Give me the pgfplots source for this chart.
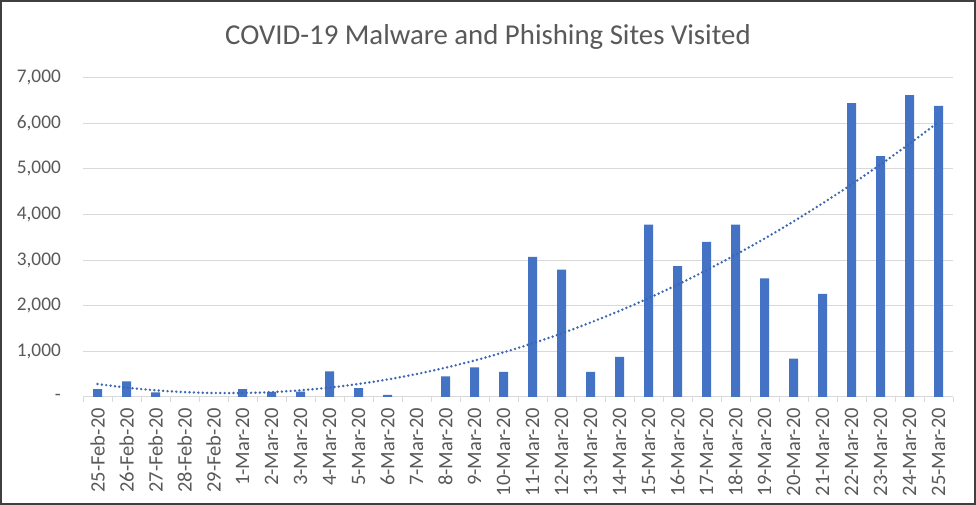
\documentclass[border=0pt]{standalone}
\usepackage{pgfplots}
\pgfplotsset{compat=1.18}
\usepackage{fontspec}
\setmainfont{Carlito}
\definecolor{barblue}{HTML}{4472C4}
\definecolor{txtgray}{HTML}{595959}
\definecolor{gridgray}{HTML}{D9D9D9}
\definecolor{framegray}{HTML}{3F3F3F}
\begin{document}
\begin{tikzpicture}[x=1pt,y=1pt]
\fill[white] (0,0) rectangle (976,505);
\draw[line width=2.4pt, framegray] (1.2,1.2) rectangle (974.8,503.8);
\node[anchor=base, text=txtgray, font=\fontsize{28.8}{32}\selectfont, inner sep=0pt] at (488,460) {COVID-19 Malware and Phishing Sites Visited};
\begin{axis}[
  at={(83pt,108pt)}, anchor=south west,
  scale only axis, width=870pt, height=319.3pt,
  xmin=-0.5, xmax=29.5, ymin=0, ymax=7000,
  axis x line*=bottom, axis y line*=left,
  y axis line style={draw=none},
  x axis line style={draw=gridgray, line width=1pt, -},
  ymajorgrids, grid style={draw=gridgray, line width=1pt},
  ytick={0,1000,2000,3000,4000,5000,6000,7000},
  yticklabels={{-\hspace{9pt}},{1,000},{2,000},{3,000},{4,000},{5,000},{6,000},{7,000}},
  ytick style={draw=none},
  yticklabel style={font=\fontsize{19.3}{22}\selectfont, text=txtgray, inner sep=0pt, xshift=-22pt, anchor=east},
  xtick={0,...,29},
  xticklabels={25-Feb-20,26-Feb-20,27-Feb-20,28-Feb-20,29-Feb-20,1-Mar-20,2-Mar-20,3-Mar-20,4-Mar-20,5-Mar-20,6-Mar-20,7-Mar-20,8-Mar-20,9-Mar-20,10-Mar-20,11-Mar-20,12-Mar-20,13-Mar-20,14-Mar-20,15-Mar-20,16-Mar-20,17-Mar-20,18-Mar-20,19-Mar-20,20-Mar-20,21-Mar-20,22-Mar-20,23-Mar-20,24-Mar-20,25-Mar-20},
  major x tick style={draw=none},
  minor xtick={-0.5,0.5,...,29.5},
  minor x tick style={draw=gridgray, line width=1pt},
  minor tick length=5pt,
  major tick length=0pt,
  tick align=outside,
  xticklabel shift=11pt,
  xticklabel style={font=\fontsize{20.5}{22}\selectfont, text=txtgray, rotate=90, anchor=east, inner sep=0pt},
  clip=false,
]
\addplot[ybar, bar width=9pt, fill=barblue, draw=none] coordinates {
(0,170) (1,340) (2,100) (5,170) (6,110) (7,120) (8,560) (9,195) (10,45)
(12,450) (13,650) (14,550) (15,3070) (16,2790) (17,550) (18,880) (19,3780)
(20,2870) (21,3400) (22,3780) (23,2600) (24,840) (25,2260) (26,6440)
(27,5280) (28,6620) (29,6380)
};
\addplot[smooth, barblue!90!black, line width=2.7pt, line cap=round, dash pattern=on 0pt off 4.4pt] coordinates {
(0,285) (1,206) (2,147) (3,107) (4,88) (5,88) (6,107) (7,147) (8,206) (9,285)
(10,384) (11,503) (12,642) (13,800) (14,978) (15,1176) (16,1394) (17,1632)
(18,1889) (19,2166) (20,2463) (21,2780) (22,3117) (23,3473) (24,3849)
(25,4245) (26,4661) (27,5097) (28,5552) (29,6027)
};
\end{axis}
\end{tikzpicture}
\end{document}
